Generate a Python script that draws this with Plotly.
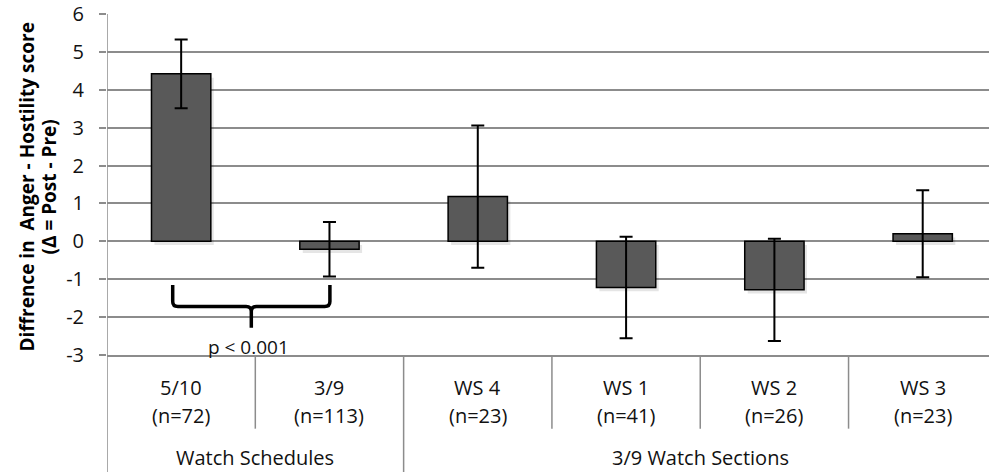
import plotly.graph_objects as go

# Data: change in Anger-Hostility score (Post - Pre) with error margins
categories = ["5/10", "3/9", "WS 4", "WS 1", "WS 2", "WS 3"]
sample_sizes = [72, 113, 23, 41, 26, 23]
group_names = ["Watch Schedules", "3/9 Watch Sections"]
group_members = [[0, 1], [2, 3, 4, 5]]
mean_diff = [4.42, -0.21, 1.18, -1.22, -1.28, 0.20]
error_margin = [0.91, 0.72, 1.88, 1.34, 1.35, 1.15]
y_ticks = [-3, -2, -1, 0, 1, 2, 3, 4, 5, 6]
y_tick_labels = [str(v) for v in y_ticks]

FONT = "Open Sans"
GRID = "#8c8c8c"
x_pos = list(range(len(categories)))

fig = go.Figure()

# soft drop shadow under each bar
fig.add_trace(go.Bar(
    x=[p + 0.02 for p in x_pos], y=mean_diff, base=[-0.1] * len(mean_diff),
    width=0.4, marker=dict(color="rgba(0,0,0,0.10)", line=dict(width=0)),
    hoverinfo="skip", showlegend=False,
))

fig.add_trace(go.Bar(
    x=x_pos, y=mean_diff, width=0.4,
    marker=dict(color="#595959", line=dict(color="#000000", width=1.5)),
    error_y=dict(type="data", array=error_margin, visible=True,
                 color="#000000", thickness=2, width=6.5),
    showlegend=False,
))

shapes = []
# category table: dividers below the plot
for b in [0.5, 2.5, 3.5, 4.5]:
    shapes.append(dict(type="line", xref="x", yref="paper", x0=b, x1=b, y0=0, y1=-0.216,
                       line=dict(color=GRID, width=1.5)))
shapes.append(dict(type="line", xref="x", yref="paper", x0=1.5, x1=1.5, y0=0, y1=-0.36,
                   line=dict(color=GRID, width=1.5)))
# left axis line running down through the category table
shapes.append(dict(type="line", xref="x", yref="paper", x0=-0.5, x1=-0.5, y0=1, y1=-0.36,
                   line=dict(color=GRID, width=1.5)))

# significance brace between the two watch schedules
xl, xr = x_pos[0] - 0.057, x_pos[1] + 0.003
xm = (xl + xr) / 2
yt, yh, yb = -1.15, -1.72, -2.28
rx, ry = 0.035, 0.13
brace = (f"M {xl},{yt} L {xl},{yh + ry} Q {xl},{yh} {xl + rx},{yh} "
         f"L {xm - rx},{yh} Q {xm},{yh} {xm},{yh - ry} L {xm},{yb} "
         f"M {xm},{yh - ry} Q {xm},{yh} {xm + rx},{yh} "
         f"L {xr - rx},{yh} Q {xr},{yh} {xr},{yh + ry} L {xr},{yt}")
shapes.append(dict(type="path", xref="x", yref="y", path=brace,
                   line=dict(color="#000000", width=3.5)))

label_font = dict(family=FONT, size=20, color="#111")
annotations = []
for i, (c, n) in enumerate(zip(categories, sample_sizes)):
    annotations.append(dict(x=x_pos[i], y=-0.096, xref="x", yref="paper", text=c,
                            showarrow=False, font=label_font,
                            xanchor="center", yanchor="middle"))
    annotations.append(dict(x=x_pos[i], y=-0.178, xref="x", yref="paper", text=f"(n={n})",
                            showarrow=False, font=label_font,
                            xanchor="center", yanchor="middle"))
for name, members in zip(group_names, group_members):
    gx = (x_pos[members[0]] + x_pos[members[-1]]) / 2
    annotations.append(dict(x=gx, y=-0.301, xref="x", yref="paper", text=name,
                            showarrow=False, font=label_font,
                            xanchor="center", yanchor="middle"))
annotations.append(dict(x=xm - 0.02, y=-2.78, xref="x", yref="y", text="p < 0.001",
                        showarrow=False, font=dict(family=FONT, size=19, color="#111"),
                        xanchor="center", yanchor="middle"))
title_font = dict(family=FONT, size=19, color="#000", weight="bold")
annotations.append(dict(x=0, y=0.5, xref="paper", yref="paper", xshift=-81, yshift=-3,
                        text="Diffrence in  Anger - Hostility score",
                        textangle=-90, showarrow=False, font=title_font,
                        xanchor="center", yanchor="middle"))
annotations.append(dict(x=0, y=0.5, xref="paper", yref="paper", xshift=-59, yshift=-3,
                        text="(\u0394 = Post - Pre)",
                        textangle=-90, showarrow=False, font=title_font,
                        xanchor="center", yanchor="middle"))

fig.update_layout(
    width=989, height=472,
    margin=dict(l=107, r=0, t=14, b=117),
    paper_bgcolor="white", plot_bgcolor="white",
    bargap=0.6,
    shapes=shapes, annotations=annotations,
    xaxis=dict(range=[-0.5, 5.447], showticklabels=False, showgrid=False, zeroline=False,
               showline=True, linecolor=GRID, linewidth=1.5, ticks=""),
    yaxis=dict(range=[-3, 6], tickvals=y_ticks, ticktext=y_tick_labels,
               showgrid=True, gridcolor=GRID, gridwidth=1.5,
               zeroline=False, showline=False, ticks="outside", ticklen=7,
               tickcolor=GRID, tickwidth=1.5, ticklabelstandoff=11,
               tickfont=dict(family=FONT, size=20, color="#111")),
)

fig.write_html("out.html")
